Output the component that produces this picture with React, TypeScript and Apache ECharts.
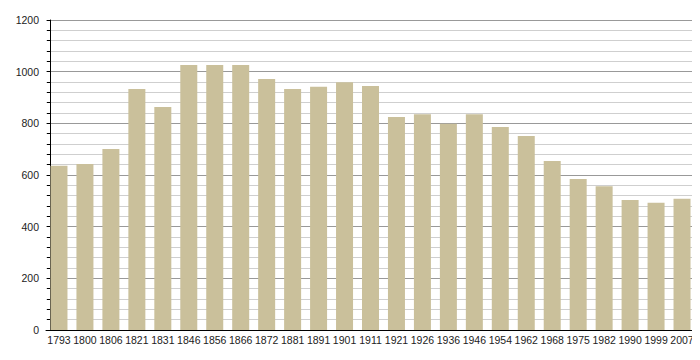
import React, { useEffect, useRef } from "react";
import * as echarts from "echarts";

const years = ["1793","1800","1806","1821","1831","1846","1856","1866","1872","1881","1891","1901","1911","1921","1926","1936","1946","1954","1962","1968","1975","1982","1990","1999","2007"];
const population = [636, 643, 701, 933, 863, 1026, 1026, 1026, 972, 933, 942, 959, 945, 825, 835, 798, 835, 786, 751, 654, 585, 556, 503, 493, 508];
const yTicks = [0, 200, 400, 600, 800, 1000, 1200];

export default function App() {
  const ref = useRef<HTMLDivElement>(null);
  useEffect(() => {
    if (!ref.current) return;
    const chart = echarts.init(ref.current, null, { renderer: "svg" });
    const font = "'Liberation Sans', Arial, sans-serif";
    chart.setOption({
      animation: false,
      backgroundColor: "#ffffff",
      grid: { left: 46, right: 5, top: 20, bottom: 30, containLabel: false },
      xAxis: {
        type: "category",
        data: years,
        boundaryGap: true,
        axisLine: { show: true, lineStyle: { color: "#000", width: 1 } },
        axisTick: { show: false },
        axisLabel: { color: "#222", fontSize: 10.5, fontFamily: font, margin: 4, interval: 0 },
        splitLine: { show: false },
      },
      yAxis: {
        type: "value",
        min: yTicks[0],
        max: yTicks[yTicks.length - 1],
        interval: 200,
        offset: -4,
        axisLine: { show: true, lineStyle: { color: "#000", width: 1 } },
        axisTick: { show: true, inside: false, length: 3, lineStyle: { color: "#000" } },
        minorTick: { show: true, splitNumber: 5, length: 3, lineStyle: { color: "#000" } },
        axisLabel: {
          color: "#222",
          fontSize: 10.5,
          fontFamily: font,
          margin: 11,
          formatter: (v: number) => String(v),
        },
        splitLine: { show: true, lineStyle: { color: "#999", width: 1 } },
        minorSplitLine: { show: true, lineStyle: { color: "#cfcfcf", width: 1 } },
      },
      series: [
        {
          type: "bar",
          data: population,
          barWidth: 17,
          itemStyle: { color: "#cac09b" },
          z: 3,
        },
      ],
    });
    return () => chart.dispose();
  }, []);
  return <div ref={ref} style={{ width: 700, height: 360, margin: -8 }} />;
}
